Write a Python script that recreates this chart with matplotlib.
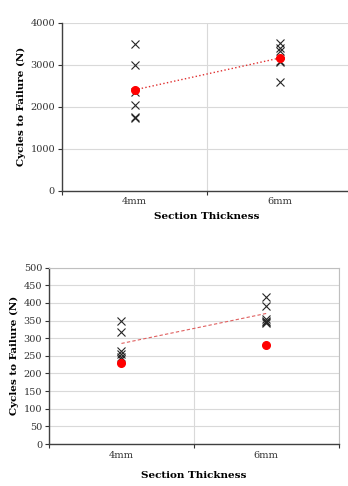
import matplotlib
matplotlib.use('Agg')
import matplotlib.pyplot as plt
import numpy as np

plt.rcParams['font.family'] = ['DejaVu Serif']

categories = ['4mm', '6mm']

# chart 1 (top)
top_4mm = [3500, 3000, 2350, 2050, 1750, 1720]
top_6mm = [3530, 3400, 3330, 3100, 3070, 2580]
top_mean = [2400, 3160]
top_line = [2400, 3160]

# chart 2 (bottom)
bot_4mm = [350, 317, 265, 255, 248, 240]
bot_6mm = [418, 390, 353, 348, 345, 342]
bot_red = [230, 282]
bot_line = [285, 370]

fig = plt.figure(figsize=(3.48, 4.86), dpi=100)


def style(ax, ymax, ystep, xpad):
    ax.set_xlim(0.5, 2.5)
    ax.set_ylim(0, ymax)
    ax.set_yticks(np.arange(0, ymax + 1, ystep))
    ax.set_xticks([1, 2])
    ax.set_xticklabels(categories)
    ax.set_xticks([0.5, 1.5, 2.5], minor=True)
    ax.tick_params(axis='x', which='major', length=0, labelsize=7, pad=5, colors='#333333')
    ax.tick_params(axis='x', which='minor', length=3, width=0.8, direction='out', color='#333333')
    ax.tick_params(axis='y', length=3, width=0.8, labelsize=7, colors='#333333', pad=2)
    ax.grid(axis='y', color='#d9d9d9', lw=0.8)
    ax.grid(axis='x', which='minor', color='#d9d9d9', lw=0.8)
    ax.set_axisbelow(True)
    for s in ['left', 'bottom']:
        ax.spines[s].set_color('#404040')
        ax.spines[s].set_linewidth(1.0)
    for s in ['top', 'right']:
        ax.spines[s].set_color('#bfbfbf')
        ax.spines[s].set_linewidth(0.8)
    ax.set_xlabel('Section Thickness', fontsize=7.5, fontweight='bold', labelpad=xpad)
    ax.set_ylabel('Cycles to Failure (N)', fontsize=7.5, fontweight='bold', labelpad=3)


ax1 = fig.add_axes([0.178, 0.608, 0.834, 0.345])
style(ax1, 4000, 1000, 4)
ax1.spines['top'].set_visible(False)
ax1.plot([1] * len(top_4mm), top_4mm, 'x', color='#262626', ms=6, mew=0.8)
ax1.plot([2] * len(top_6mm), top_6mm, 'x', color='#262626', ms=6, mew=0.8)
ax1.plot([1, 2], top_line, ':', color='#e03030', lw=1.0)
ax1.plot([1, 2], top_mean, 'o', color='#ff0000', ms=5.5)

ax2 = fig.add_axes([0.141, 0.0864, 0.832, 0.363])
style(ax2, 500, 50, 8)
ax2.plot([1] * len(bot_4mm), bot_4mm, 'x', color='#262626', ms=6, mew=0.8)
ax2.plot([2] * len(bot_6mm), bot_6mm, 'x', color='#262626', ms=6, mew=0.8)
ax2.plot([1, 2], bot_line, '--', color='#e06060', lw=0.8, dashes=(3, 2))
ax2.plot([1, 2], bot_red, 'o', color='#ff0000', ms=5.5)

fig.savefig('out.png', dpi=100)
